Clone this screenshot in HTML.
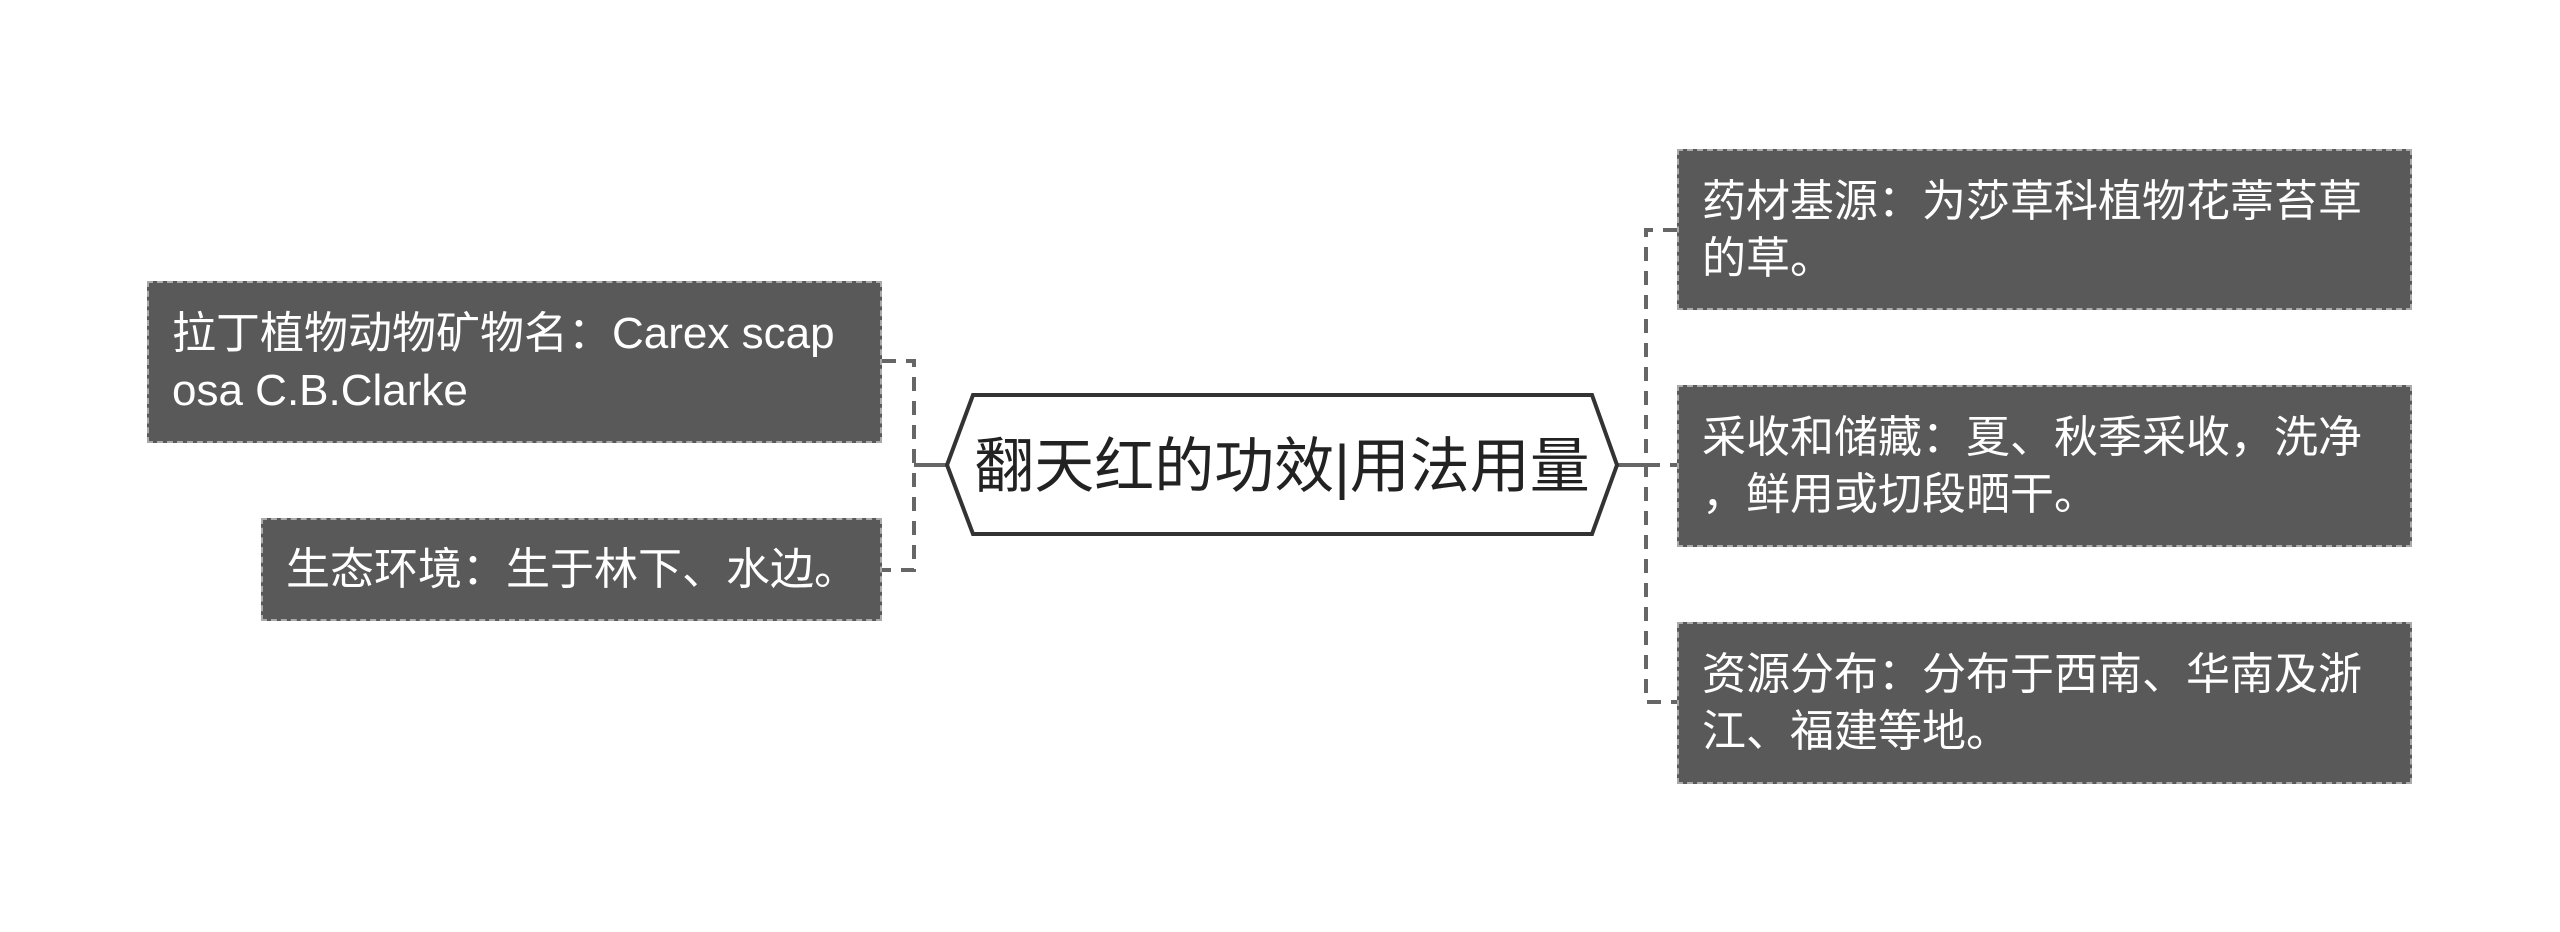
<!DOCTYPE html>
<html><head><meta charset="utf-8"><style>
body{margin:0;width:2560px;height:932px;background:#fff;position:relative;overflow:hidden;font-family:"Liberation Sans","Noto Sans CJK SC",sans-serif}
.b{position:absolute;background:#595959;border:2px dashed #aaa;box-sizing:border-box;color:#fff;font-size:44px;line-height:57px;padding:0 0 0 23px;display:flex;align-items:center}
</style></head><body>
<svg width="2560" height="932" style="position:absolute;left:0;top:0">
<g stroke="#666" stroke-width="4" fill="none">
<line x1="914" y1="465" x2="947" y2="465"/>
<line x1="1617" y1="465" x2="1646" y2="465"/>
<g stroke-dasharray="14,10">
<polyline points="882,361 914,361 914,570 882,570"/>
<polyline points="1677,230 1646,230 1646,702 1677,702"/>
<line x1="1646" y1="465" x2="1677" y2="465"/>
</g></g>
<polygon points="947,465 973,395 1592,395 1617,465 1592,534 973,534" fill="#fff" stroke="#333" stroke-width="4"/>
<text x="1282" y="487" text-anchor="middle" font-size="60" fill="#222" font-family="Liberation Sans, Noto Sans CJK SC, sans-serif">翻天红的功效|用法用量</text>
</svg>
<div class="b" style="left:147px;top:281px;width:735px;height:162px">拉丁植物动物矿物名：Carex scap<br>osa C.B.Clarke</div>
<div class="b" style="left:261px;top:518px;width:621px;height:103px">生态环境：生于林下、水边。</div>
<div class="b" style="left:1677px;top:149px;width:735px;height:161px">药材基源：为莎草科植物花葶苔草<br>的草。</div>
<div class="b" style="left:1677px;top:385px;width:735px;height:162px">采收和储藏：夏、秋季采收，洗净<br>，鲜用或切段晒干。</div>
<div class="b" style="left:1677px;top:622px;width:735px;height:162px">资源分布：分布于西南、华南及浙<br>江、福建等地。</div>
</body></html>
